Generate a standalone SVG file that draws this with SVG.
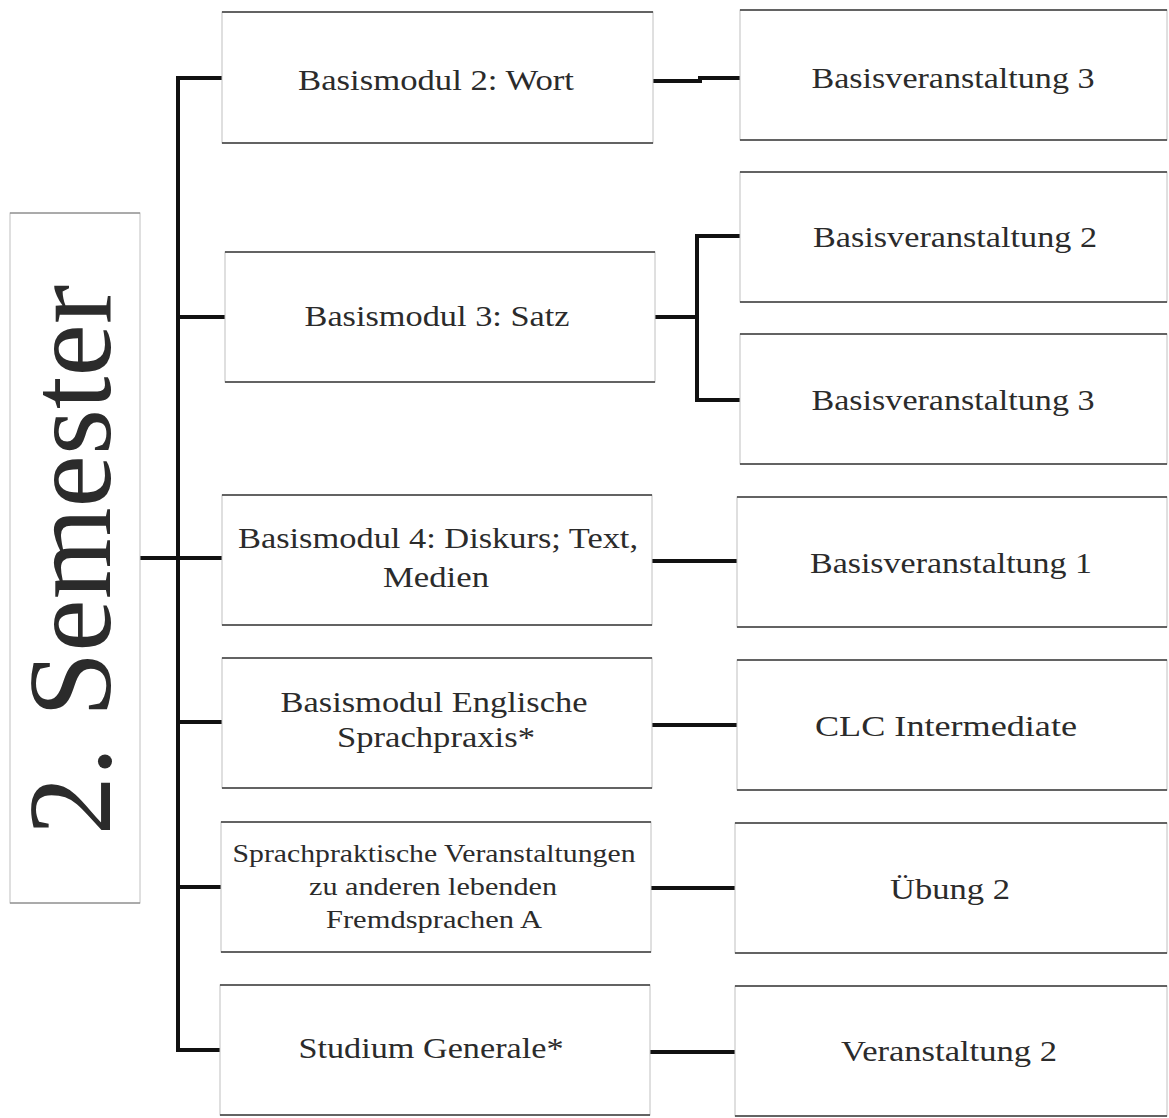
<svg xmlns="http://www.w3.org/2000/svg" width="1169" height="1118" viewBox="0 0 1169 1118">
<style>
.box{fill:#fff;stroke:#c0c0c0;stroke-width:1}
.edge{stroke:#3a3a3a;stroke-width:1.6}
.lbl{font-family:"Liberation Serif","Times New Roman",serif;font-size:30px;fill:#2b2b2b;text-anchor:middle}
.sm{font-size:26px}
.con{fill:none;stroke:#111;stroke-width:4;stroke-linejoin:miter}
</style>
<rect width="1169" height="1118" fill="#fff"/>
<g id="connectors">
<path class="con" d="M140,558 H222"/>
<path class="con" d="M222,78 H178 V1050 H220"/>
<path class="con" d="M178,317 H225"/>
<path class="con" d="M178,722 H222"/>
<path class="con" d="M178,887 H222"/>
<path class="con" d="M653,81 H700 V78 H740"/>
<path class="con" d="M655,317 H697 M740,236 H697 V400 H740"/>
<path class="con" d="M652,561 H737"/>
<path class="con" d="M652,725 H737"/>
<path class="con" d="M651,888 H735"/>
<path class="con" d="M650,1052 H735"/>
</g>
<g id="semester">
<rect class="box" x="10" y="213" width="130" height="690"/>
<line x1="10" y1="213" x2="140" y2="213" stroke="#777" stroke-width="1"/>
<line x1="10" y1="903" x2="140" y2="903" stroke="#777" stroke-width="1"/>
<text class="lbl" transform="translate(110,560) rotate(-90)" style="font-size:118px">2. Semester</text>
</g>
<g id="bm2">
<rect class="box" x="222" y="12" width="431" height="131"/>
<line class="edge" x1="222" y1="12" x2="653" y2="12"/><line class="edge" x1="222" y1="143" x2="653" y2="143"/>
<text class="lbl" x="436" y="90" textLength="276" lengthAdjust="spacingAndGlyphs">Basismodul 2: Wort</text>
</g>
<g id="bv3a">
<rect class="box" x="740" y="10" width="427" height="130"/>
<line class="edge" x1="740" y1="10" x2="1167" y2="10"/><line class="edge" x1="740" y1="140" x2="1167" y2="140"/>
<text class="lbl" x="953" y="88" textLength="283" lengthAdjust="spacingAndGlyphs">Basisveranstaltung 3</text>
</g>
<g id="bm3">
<rect class="box" x="225" y="252" width="430" height="130"/>
<line class="edge" x1="225" y1="252" x2="655" y2="252"/><line class="edge" x1="225" y1="382" x2="655" y2="382"/>
<text class="lbl" x="437" y="326" textLength="265" lengthAdjust="spacingAndGlyphs">Basismodul 3: Satz</text>
</g>
<g id="bv2">
<rect class="box" x="740" y="172" width="427" height="130"/>
<line class="edge" x1="740" y1="172" x2="1167" y2="172"/><line class="edge" x1="740" y1="302" x2="1167" y2="302"/>
<text class="lbl" x="955" y="247" textLength="284" lengthAdjust="spacingAndGlyphs">Basisveranstaltung 2</text>
</g>
<g id="bv3b">
<rect class="box" x="740" y="334" width="427" height="130"/>
<line class="edge" x1="740" y1="334" x2="1167" y2="334"/><line class="edge" x1="740" y1="464" x2="1167" y2="464"/>
<text class="lbl" x="953" y="410" textLength="283" lengthAdjust="spacingAndGlyphs">Basisveranstaltung 3</text>
</g>
<g id="bm4">
<rect class="box" x="222" y="495" width="430" height="130"/>
<line class="edge" x1="222" y1="495" x2="652" y2="495"/><line class="edge" x1="222" y1="625" x2="652" y2="625"/>
<text class="lbl" x="438" y="548" textLength="400" lengthAdjust="spacingAndGlyphs">Basismodul 4: Diskurs; Text,</text>
<text class="lbl" x="436" y="587" textLength="106" lengthAdjust="spacingAndGlyphs">Medien</text>
</g>
<g id="bv1">
<rect class="box" x="737" y="497" width="430" height="130"/>
<line class="edge" x1="737" y1="497" x2="1167" y2="497"/><line class="edge" x1="737" y1="627" x2="1167" y2="627"/>
<text class="lbl" x="951" y="573" textLength="282" lengthAdjust="spacingAndGlyphs">Basisveranstaltung 1</text>
</g>
<g id="bmEng">
<rect class="box" x="222" y="658" width="430" height="130"/>
<line class="edge" x1="222" y1="658" x2="652" y2="658"/><line class="edge" x1="222" y1="788" x2="652" y2="788"/>
<text class="lbl" x="434" y="712" textLength="307" lengthAdjust="spacingAndGlyphs">Basismodul Englische</text>
<text class="lbl" x="436" y="747" textLength="198" lengthAdjust="spacingAndGlyphs">Sprachpraxis*</text>
</g>
<g id="clc">
<rect class="box" x="737" y="660" width="430" height="130"/>
<line class="edge" x1="737" y1="660" x2="1167" y2="660"/><line class="edge" x1="737" y1="790" x2="1167" y2="790"/>
<text class="lbl" x="946" y="736" textLength="262" lengthAdjust="spacingAndGlyphs">CLC Intermediate</text>
</g>
<g id="spv">
<rect class="box" x="221" y="822" width="430" height="130"/>
<line class="edge" x1="221" y1="822" x2="651" y2="822"/><line class="edge" x1="221" y1="952" x2="651" y2="952"/>
<text class="lbl sm" x="434" y="862" textLength="403" lengthAdjust="spacingAndGlyphs">Sprachpraktische Veranstaltungen</text>
<text class="lbl sm" x="433" y="895" textLength="248" lengthAdjust="spacingAndGlyphs">zu anderen lebenden</text>
<text class="lbl sm" x="434" y="928" textLength="216" lengthAdjust="spacingAndGlyphs">Fremdsprachen A</text>
</g>
<g id="uebung">
<rect class="box" x="735" y="823" width="432" height="130"/>
<line class="edge" x1="735" y1="823" x2="1167" y2="823"/><line class="edge" x1="735" y1="953" x2="1167" y2="953"/>
<text class="lbl" x="950" y="899" textLength="120" lengthAdjust="spacingAndGlyphs">Übung 2</text>
</g>
<g id="stg">
<rect class="box" x="220" y="985" width="430" height="130"/>
<line class="edge" x1="220" y1="985" x2="650" y2="985"/><line class="edge" x1="220" y1="1115" x2="650" y2="1115"/>
<text class="lbl" x="431" y="1058" textLength="265" lengthAdjust="spacingAndGlyphs">Studium Generale*</text>
</g>
<g id="v2">
<rect class="box" x="735" y="986" width="432" height="130"/>
<line class="edge" x1="735" y1="986" x2="1167" y2="986"/><line class="edge" x1="735" y1="1116" x2="1167" y2="1116"/>
<text class="lbl" x="949" y="1061" textLength="216" lengthAdjust="spacingAndGlyphs">Veranstaltung 2</text>
</g>
</svg>
